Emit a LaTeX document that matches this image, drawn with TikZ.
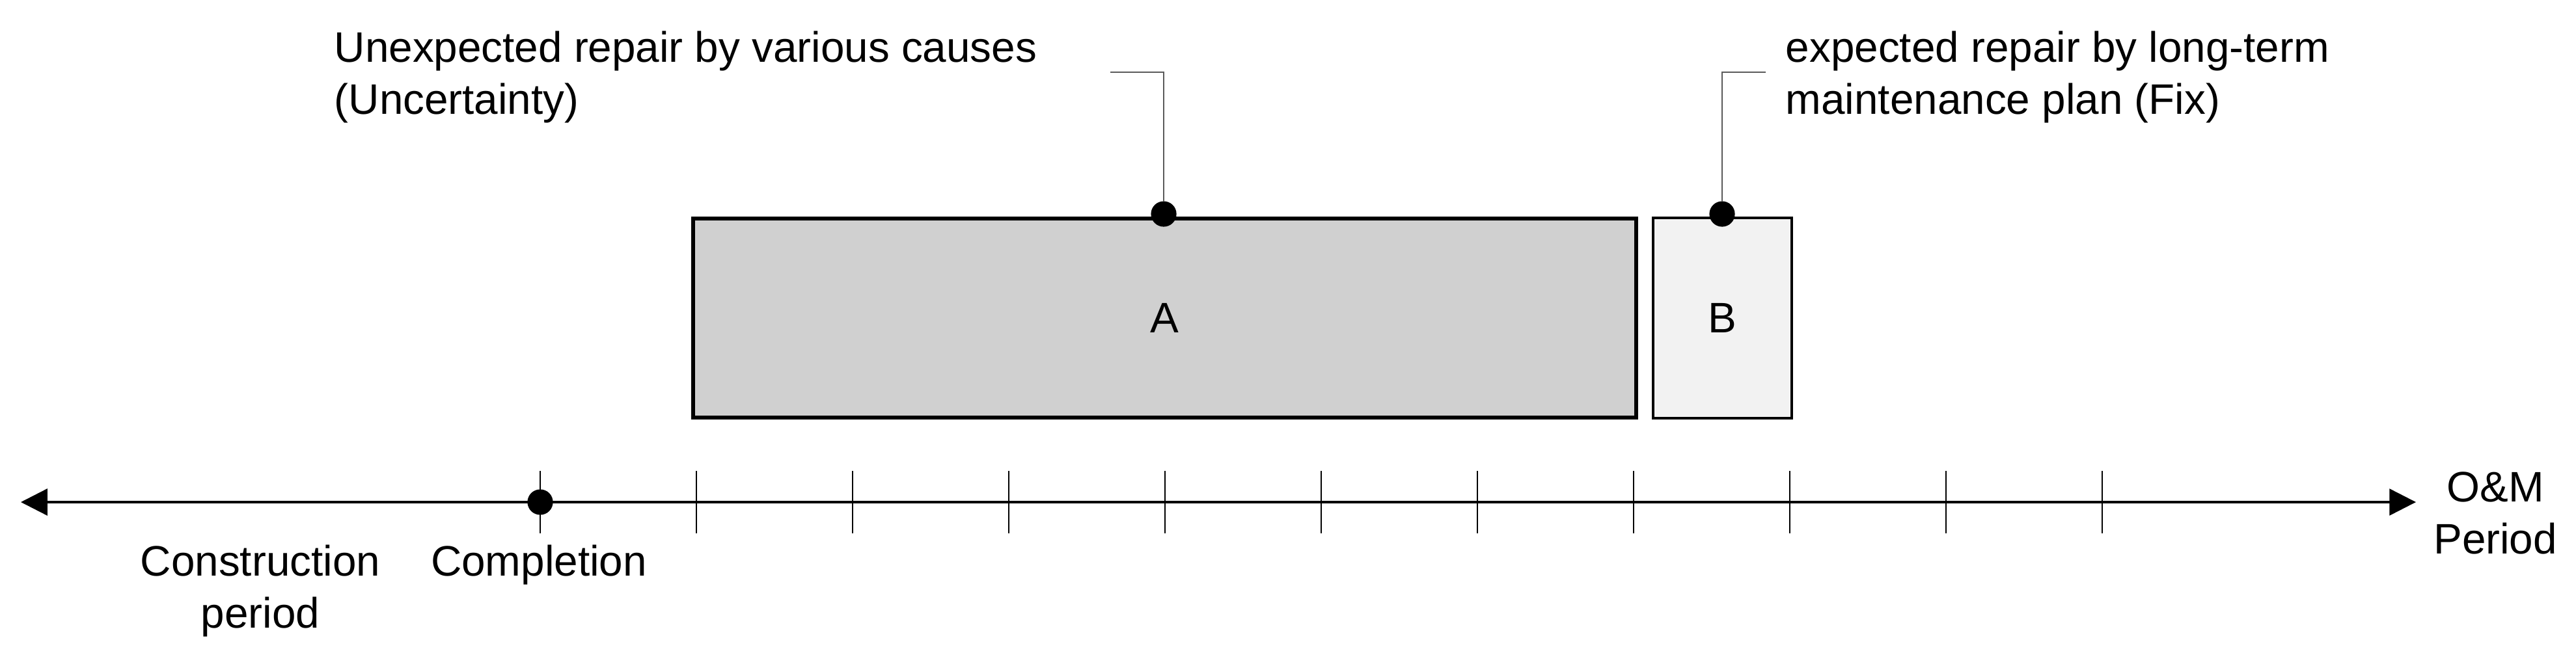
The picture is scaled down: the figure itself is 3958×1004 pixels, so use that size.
\documentclass[tikz,border=0pt]{standalone}
\usepackage{fontspec}
\setmainfont{Liberation Sans}
\usepackage{tikz}
\usetikzlibrary{arrows.meta}
\usepackage{xcolor}

\definecolor{fillA}{RGB}{208,208,208}
\definecolor{fillB}{RGB}{242,242,242}
\definecolor{leadgray}{RGB}{90,90,90}

\tikzset{
  axisline/.style={line width=0.85pt, {Triangle[length=10.2pt,width=10.2pt]}-{Triangle[length=10.2pt,width=10.2pt]}},
  tickline/.style={line width=0.6pt},
  leader/.style={draw=leadgray, line width=0.5pt},
  blackdot/.style={circle, fill=black, inner sep=0pt, minimum size=9.8pt},
  boxA/.style={draw, line width=1.5pt, fill=fillA, inner sep=0pt, minimum width=362.25pt, minimum height=76.5pt},
  boxB/.style={draw, line width=0.8pt, fill=fillB, inner sep=0pt, minimum width=53.25pt, minimum height=77pt},
  lbl/.style={inner sep=0pt, font=\fontsize{16.4}{20}\selectfont}
}

\begin{document}
\begin{tikzpicture}[x=0.25pt,y=0.25pt,yscale=-1,xscale=1]
\useasboundingbox (0,0) rectangle (3958,1004); %set diagram at the size of the reference

%Shape: Axis 2D
\coordinate (axL) at (32,772);
\coordinate (axR) at (3712,772);
\draw [axisline] (axL) -- (axR) ;

%Straight Lines: ticks
\draw [tickline] (830,724) -- (830,820) ;
\draw [tickline] (1070,724) -- (1070,820) ;
\draw [tickline] (1310,724) -- (1310,820) ;
\draw [tickline] (1550,724) -- (1550,820) ;
\draw [tickline] (1790,724) -- (1790,820) ;
\draw [tickline] (2030,724) -- (2030,820) ;
\draw [tickline] (2270,724) -- (2270,820) ;
\draw [tickline] (2510,724) -- (2510,820) ;
\draw [tickline] (2750,724) -- (2750,820) ;
\draw [tickline] (2990,724) -- (2990,820) ;
\draw [tickline] (3230,724) -- (3230,820) ;

%Shape: Ellipse
\node (compdot) [blackdot] at (830,772) {};

%Shape: Rectangle
\node (repA) [boxA, lbl] at (1789.5,489) {A};
%Shape: Rectangle
\node (repB) [boxB, lbl] at (2646.5,489) {B};

%Shape: Ellipse
\node (dotA) [blackdot] at (1788,329) {};
%Shape: Ellipse
\node (dotB) [blackdot] at (2646,329) {};

%Straight Lines
\coordinate (legA) at (1706,111);
\draw [leader] (dotA) |- (legA) ;
%Straight Lines
\coordinate (legB) at (2713,111);
\draw [leader] (dotB) |- (legB) ;

% Text Node
\draw (513,47) node (txtA) [anchor=north west][lbl] [align=left] {Unexpected repair by various causes\\(Uncertainty)};
% Text Node
\draw (2743,47) node (txtB) [anchor=north west][lbl] [align=left] {expected repair by long-term\\maintenance plan (Fix)};
% Text Node
\draw (400,837) node (txtCons) [anchor=north][lbl] [align=center] {Construction\\period};
% Text Node
\draw (828,885) node (txtComp) [anchor=base][lbl] {Completion};
% Text Node
\draw (3834,725) node (txtOM) [anchor=north][lbl] [align=center] {O\&M\\Period};

\end{tikzpicture}
\end{document}
